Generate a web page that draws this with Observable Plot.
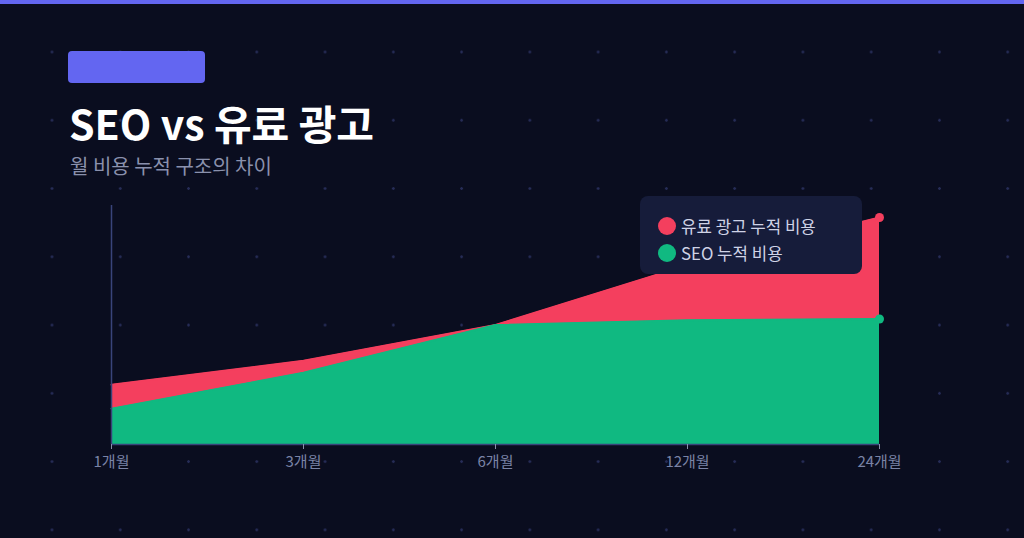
<!DOCTYPE html>
<html>
<head>
<meta charset="utf-8">
<script src="https://cdn.jsdelivr.net/npm/d3@7"></script>
<script src="https://cdn.jsdelivr.net/npm/@observablehq/plot@0.6"></script>
<style>
  html, body { margin: 0; padding: 0; background: #0a0d1f; }
  #page {
    position: relative; width: 1024px; height: 538px; overflow: hidden;
    background-color: #0a0d1f;
    background-image: radial-gradient(circle at center, #262c57 0, #262c57 1px, transparent 1.6px);
    background-size: 68.27px 68.27px;
    background-position: 17.87px 17.87px;
    font-family: "Noto Sans CJK KR", "Noto Sans", sans-serif;
  }
  #topbar { position: absolute; left: 0; top: 0; width: 1024px; height: 4px; background: #6366f1; }
  #badge { position: absolute; left: 68px; top: 51px; width: 137px; height: 32px; border-radius: 4px; background: #6366f1; }
  #title { position: absolute; left: 69px; top: 102px; font-size: 41px; line-height: 1; font-weight: 700; color: #ffffff; white-space: nowrap; }
  #subtitle { position: absolute; left: 70px; top: 156px; font-size: 20px; line-height: 1; color: #8a91ad; white-space: nowrap; }
  #chart { position: absolute; left: 0; top: 0; }
  #legend { position: absolute; left: 640px; top: 196px; width: 222px; height: 78px; border-radius: 8px; background: #161c3a; }
  .sw { position: absolute; width: 18px; height: 18px; border-radius: 50%; }
  .lt { position: absolute; font-size: 16.8px; line-height: 1; color: #cfd3e6; white-space: nowrap; }
</style>
</head>
<body>
<div id="page">
  <div id="topbar"></div>
  <div id="chart"></div>
  <div id="badge"></div>
  <div id="title">SEO vs 유료 광고</div>
  <div id="subtitle">월 비용 누적 구조의 차이</div>
  <div id="legend"></div>
</div>
<script>
const months = ["1개월", "3개월", "6개월", "12개월", "24개월"];
const paidCost = [50, 70, 100, 150, 190];
const seoCost = [30, 60, 100, 104, 105];
const seriesNames = ["유료 광고 누적 비용", "SEO 누적 비용"];
const seriesColors = ["#f43f5e", "#10b981"];

const data = months.map((m, i) => ({ month: m, paid: paidCost[i], seo: seoCost[i] }));
const last = data.slice(-1);

const chart = Plot.plot({
  width: 1024,
  height: 538,
  marginLeft: 111,
  marginRight: 145,
  marginTop: 205,
  marginBottom: 94,
  style: { background: "transparent", fontFamily: "'Noto Sans CJK KR', 'Noto Sans', sans-serif", fontSize: "15px", overflow: "visible" },
  x: { type: "point", domain: months, padding: 0 },
  y: { domain: [0, 200], axis: null },
  marks: [
    Plot.areaY(data, { x: "month", y: "paid", fill: seriesColors[0] }),
    Plot.lineY(data, { x: "month", y: "paid", stroke: seriesColors[0], strokeWidth: 2 }),
    Plot.areaY(data, { x: "month", y: "seo", fill: seriesColors[1] }),
    Plot.lineY(data, { x: "month", y: "seo", stroke: seriesColors[1], strokeWidth: 2 }),
    Plot.ruleY([0], { stroke: "#39447a", strokeWidth: 1.5 }),
    Plot.ruleX([months[0]], { stroke: "#39447a", strokeWidth: 1.5 }),
    Plot.dot(last, { x: "month", y: "paid", r: 4.5, fill: seriesColors[0] }),
    Plot.dot(last, { x: "month", y: "seo", r: 4.5, fill: seriesColors[1] }),
    Plot.axisX({ tickSize: 5, tickPadding: 7, stroke: "#8a90aa", fill: "#7a83a6", fontSize: 15, label: null })
  ]
});
document.getElementById("chart").appendChild(chart);

const legend = document.getElementById("legend");
seriesNames.forEach((name, i) => {
  const sw = document.createElement("div");
  sw.className = "sw";
  sw.style.left = "18px";
  sw.style.top = (21 + i * 27) + "px";
  sw.style.background = seriesColors[i];
  legend.appendChild(sw);
  const t = document.createElement("div");
  t.className = "lt";
  t.textContent = name;
  t.style.left = "41px";
  t.style.top = (22 + i * 27) + "px";
  legend.appendChild(t);
});
</script>
</body>
</html>
